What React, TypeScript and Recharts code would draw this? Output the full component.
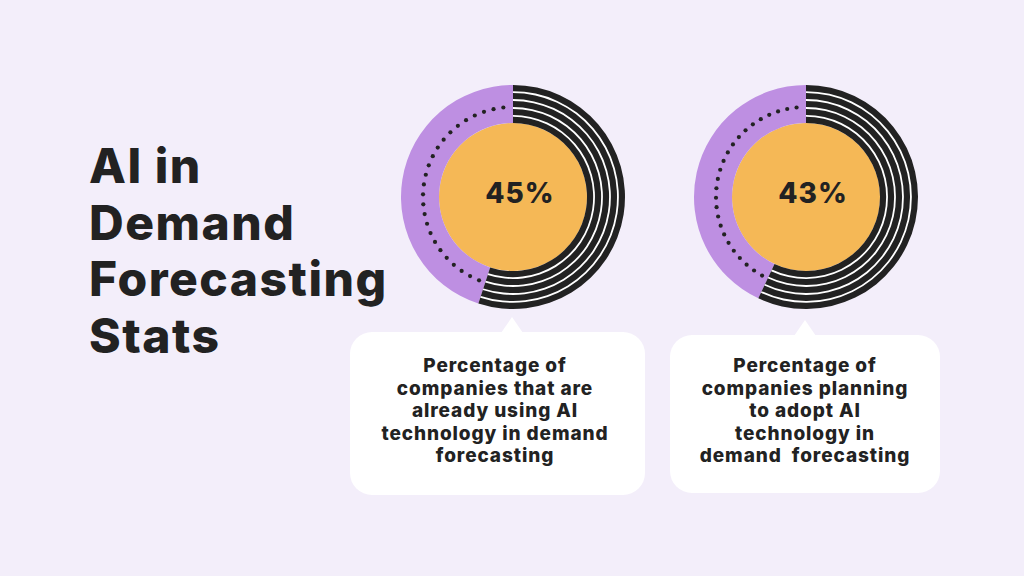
import { PieChart, Pie, Cell } from 'recharts'

// share of companies (percent) for each stat card
const shares = [45, 43]
const shareLabels = ['45%', '43%']
const descriptions = [
  ['Percentage of', 'companies that are', 'already using AI', 'technology in demand', 'forecasting'],
  ['Percentage of', 'companies planning', 'to adopt AI', 'technology in', 'demand  forecasting'],
]
const titleLines = ['AI in', 'Demand', 'Forecasting', 'Stats']
const dotCount = 25

const BG = '#F3EEFA'
const PURPLE = '#BE8FE2'
const ORANGE = '#F5B856'
const DARK = '#222222'
const FONT = 'Inter, "Noto Sans", sans-serif'

// donut geometry
const INNER = 74
const OUTER = 112
const BAND = 6.16
const LINE = 1.8
const stripes = [0, 1, 2, 3].map((i) => {
  const inner = INNER + (i + 1) * BAND + i * LINE
  return [inner, inner + LINE]
})

const centers = [
  { x: 513, y: 197 },
  { x: 806, y: 197 },
]
const boxes = [
  { x: 350, y: 332, w: 295, h: 163, tip: 512, textX: 495 },
  { x: 670, y: 335, w: 270, h: 158, tip: 805, textX: 805 },
]

function renderDot(props: any) {
  const { cx, cy, midAngle } = props
  const rad = (-midAngle * Math.PI) / 180
  const r = 90
  return <circle key={`d-${midAngle}`} cx={cx + r * Math.cos(rad)} cy={cy + r * Math.sin(rad)} r={2.1} fill={DARK} />
}

function Donut({ share, label }: { share: number; label: string }) {
  const data = [
    { name: 'Yes', value: share },
    { name: 'No', value: 100 - share },
  ]
  const purpleDeg = share * 3.6
  const dots = Array.from({ length: dotCount }, (_, i) => ({ name: `dot${i}`, value: 1 }))
  // centre figure drawn as the label of the orange disc
  const renderCenter = (p: any) => (
    <text
      key="center"
      x={p.cx + 7}
      y={p.cy + 6}
      textAnchor="middle"
      fontFamily={FONT}
      fontWeight={800}
      fontSize={28}
      letterSpacing={1}
      fill={DARK}
    >
      {label}
    </text>
  )
  return (
    <PieChart width={240} height={240} margin={{ top: 0, right: 0, bottom: 0, left: 0 }}>
      <Pie
        data={[{ name: 'all', value: 100 }]}
        dataKey="value"
        cx="50%"
        cy="50%"
        innerRadius={0}
        outerRadius={INNER}
        fill={ORANGE}
        stroke="none"
        label={renderCenter}
        labelLine={false}
        isAnimationActive={false}
      />
      <Pie
        data={data}
        dataKey="value"
        cx="50%"
        cy="50%"
        startAngle={90}
        endAngle={450}
        innerRadius={INNER}
        outerRadius={OUTER}
        stroke="none"
        isAnimationActive={false}
      >
        <Cell fill={PURPLE} />
        <Cell fill={DARK} />
      </Pie>
      {stripes.map(([ir, or], i) => (
        <Pie
          key={i}
          data={data}
          dataKey="value"
          cx="50%"
          cy="50%"
          startAngle={90}
          endAngle={450}
          innerRadius={ir}
          outerRadius={or}
          stroke="none"
          isAnimationActive={false}
        >
          <Cell fill="transparent" />
          <Cell fill="#FFFFFF" />
        </Pie>
      ))}
      <Pie
        data={dots}
        dataKey="value"
        cx="50%"
        cy="50%"
        startAngle={90 + 3}
        endAngle={90 + purpleDeg - 1}
        innerRadius={89}
        outerRadius={91}
        fill="transparent"
        stroke="none"
        label={renderDot}
        labelLine={false}
        isAnimationActive={false}
      />
    </PieChart>
  )
}

export default function App() {
  return (
    <div
      style={{
        position: 'fixed',
        left: 0,
        top: 0,
        width: 1024,
        height: 576,
        background: BG,
        overflow: 'hidden',
        fontFamily: FONT,
      }}
    >
      <svg width={1024} height={576} style={{ position: 'absolute', left: 0, top: 0 }}>
        {titleLines.map((t, i) => (
          <text
            key={t}
            x={89}
            y={183 + i * 56.7}
            fontFamily={FONT}
            fontWeight={800}
            fontSize={48}
            letterSpacing={1.5}
            fill={DARK}
          >
            {t}
          </text>
        ))}
        {boxes.map((b, i) => (
          <g key={i}>
            <rect x={b.x} y={b.y} width={b.w} height={b.h} rx={22} fill="#FFFFFF" />
            <path d={`M${b.tip - 11},${b.y + 1} L${b.tip},${b.y - 15} L${b.tip + 11},${b.y + 1} Z`} fill="#FFFFFF" />
            {descriptions[i].map((line, j) => (
              <text
                key={j}
                x={b.textX}
                y={372 + j * 22.6}
                textAnchor="middle"
                fontFamily={FONT}
                fontWeight={800}
                fontSize={19}
                letterSpacing={0.9}
                fill={DARK}
                style={{ whiteSpace: 'pre' }}
              >
                {line}
              </text>
            ))}
          </g>
        ))}
      </svg>
      {shares.map((s, i) => (
        <div
          key={i}
          style={{ position: 'absolute', left: centers[i].x - 120, top: centers[i].y - 120, width: 240, height: 240 }}
        >
          <Donut share={s} label={shareLabels[i]} />
        </div>
      ))}
    </div>
  )
}
